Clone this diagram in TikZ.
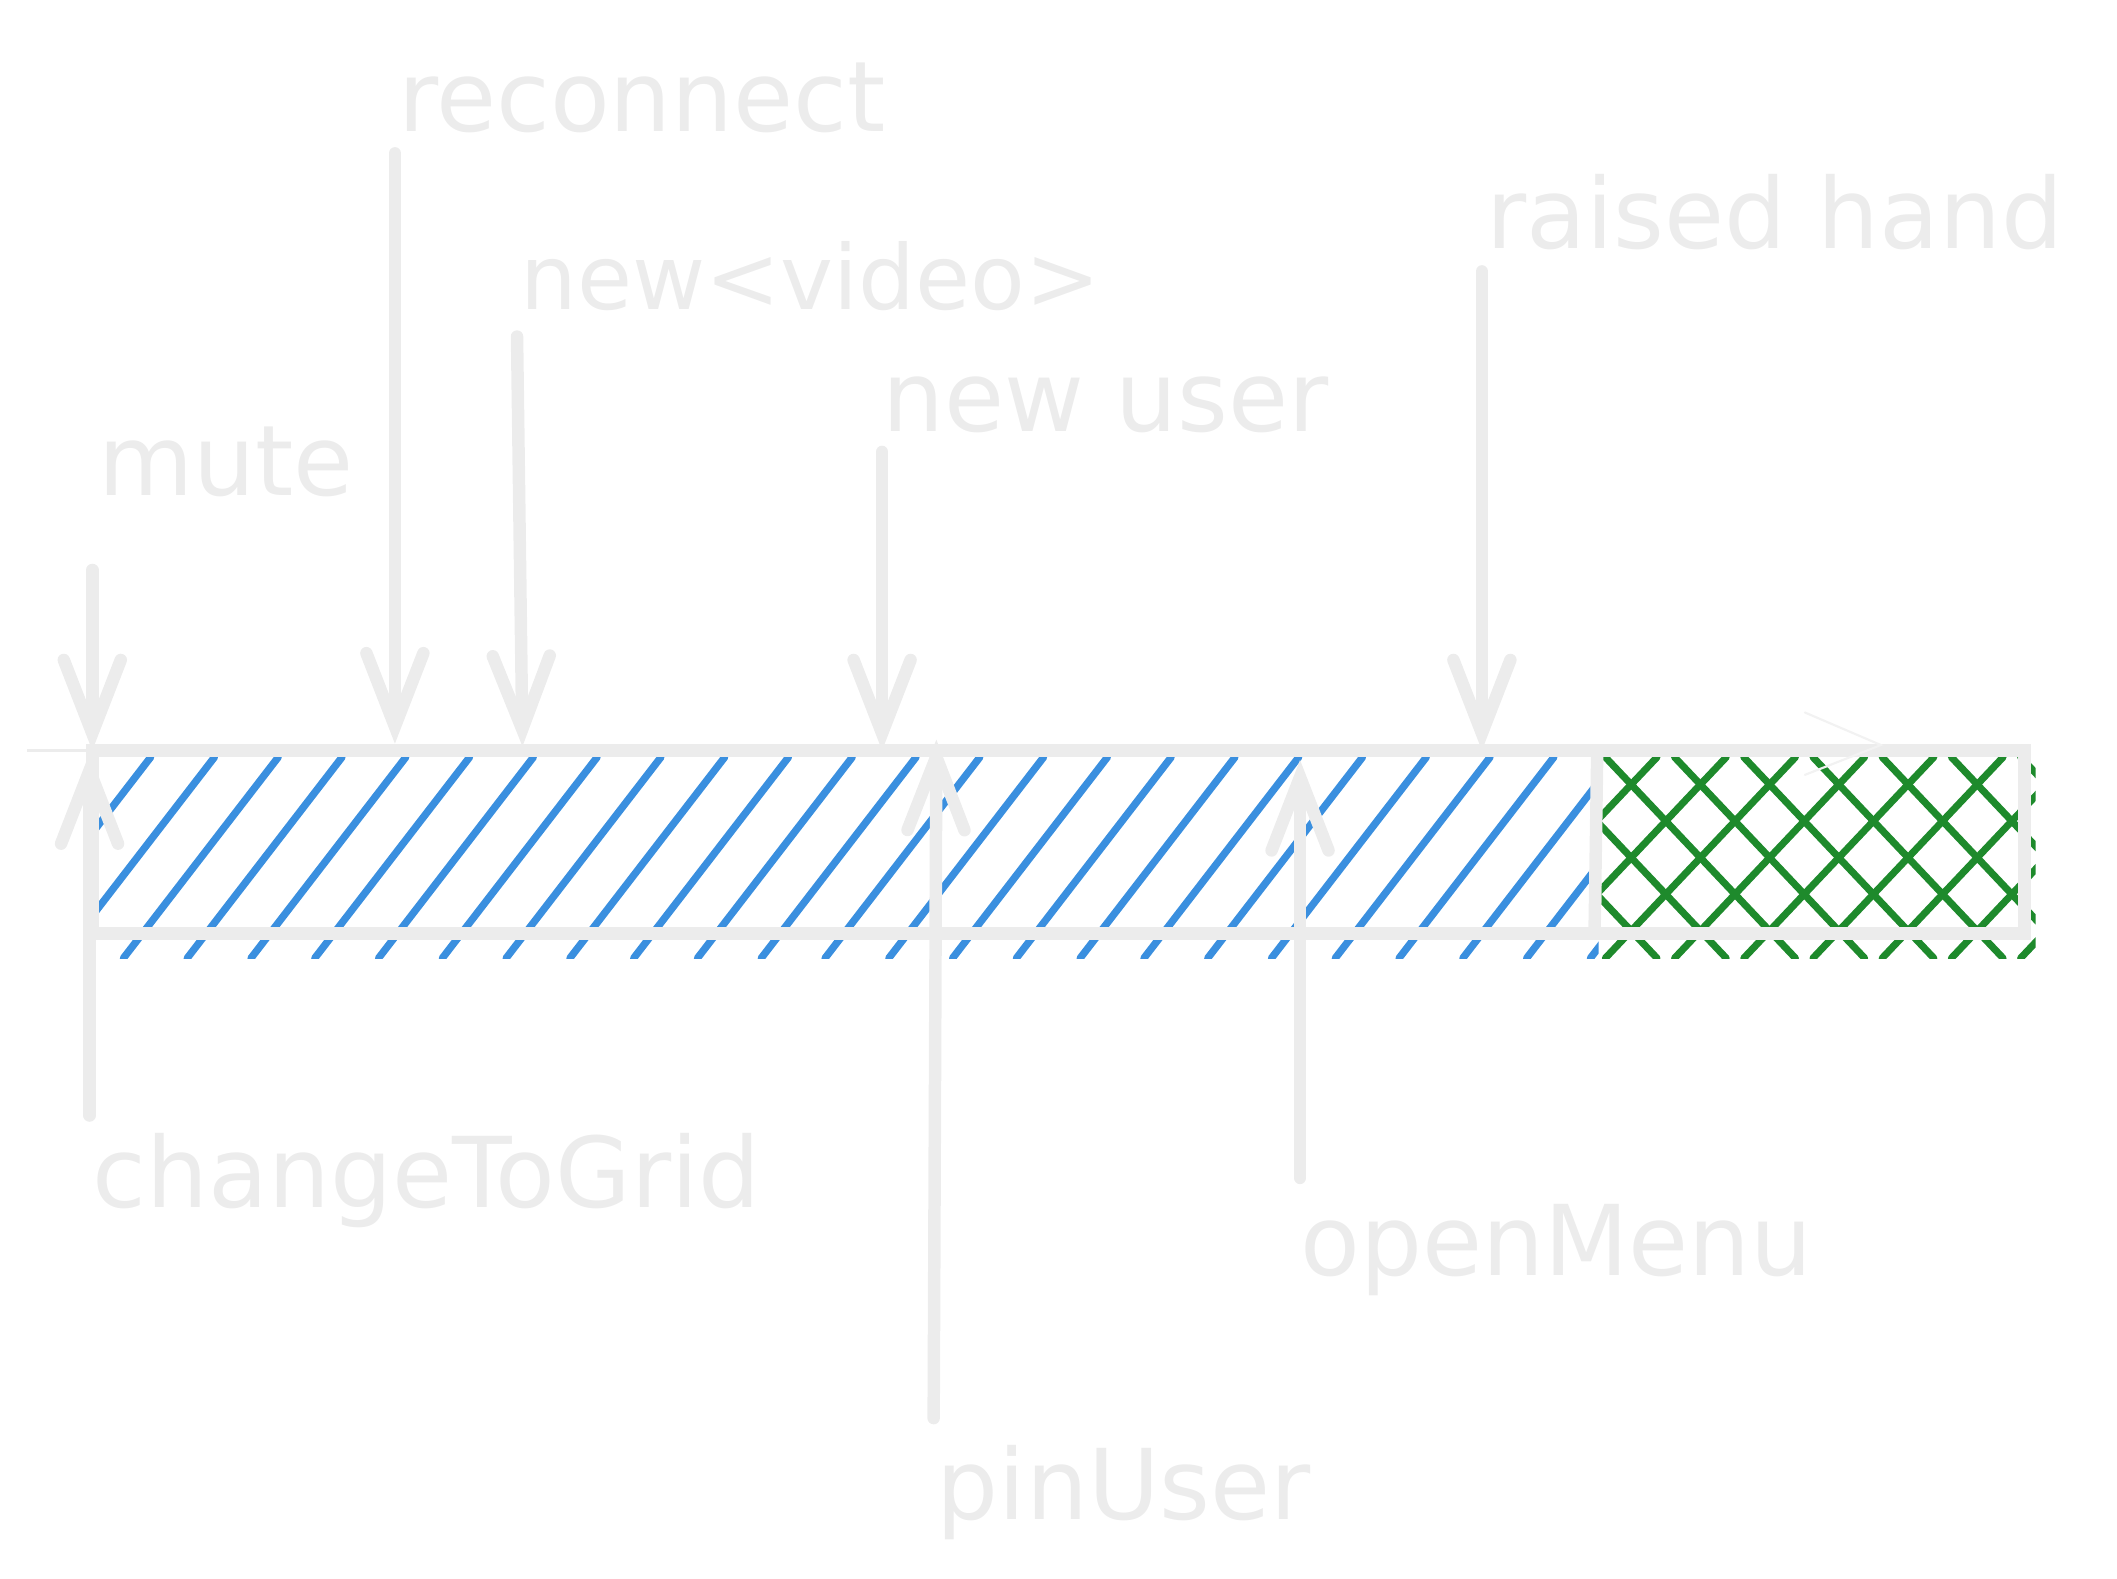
\documentclass[tikz,border=0pt]{standalone}
\usepackage{fontspec}
\setmainfont{DejaVu Sans}
\usepackage{xcolor}
\usepackage{tikz}
\usetikzlibrary{arrows.meta}

\definecolor{chalk}{HTML}{ECECEC}
\definecolor{hatchblue}{HTML}{3A8FDF}
\definecolor{hatchgreen}{HTML}{1E8A2C}

\begin{document}
\begin{tikzpicture}[x=0.5pt, y=-0.5pt,
    lbl/.style={anchor=base west, inner sep=0pt, text=chalk, font=\fontsize{36}{40}\selectfont},
    evt/.style={draw=chalk, line width=4.6pt, line cap=round,
        -{Straight Barb[length=27pt, width=21pt, line cap=round]}},
    edge/.style={draw=chalk, line width=4.6pt, line cap=round},
    bluehatch/.style={draw=hatchblue, line width=2.7pt, line cap=round},
    greenhatch/.style={draw=hatchgreen, line width=2.6pt, line cap=round}]
        \useasboundingbox (0,0) rectangle (1560,1163);

        % timeline bar
        \coordinate (BarNW) at (68, 553);
        \coordinate (BarNE) at (1492, 553);
        \coordinate (BarSW) at (68, 688);
        \coordinate (BarSE) at (1492, 688);
        \coordinate (SplitN) at (1177, 553);
        \coordinate (SplitS) at (1175, 688);
        \coordinate (LeadIn) at (20, 553);

        \begin{scope}
            \clip (72, 558) rectangle (1178, 706);
            \foreach \x in {-50,-3,...,1180}
                \draw[bluehatch] (\x, 706) -- ++(114, -148);
        \end{scope}
        \begin{scope}
            \clip (1180, 558) rectangle (1500, 706);
            \foreach \x in {1030,1081,...,1500} {
                \draw[greenhatch] (\x, 706) -- ++(140, -148);
                \draw[greenhatch] (\x, 558) -- ++(140, 148);
            }
        \end{scope}

        \draw[chalk, line width=1pt] (LeadIn) -- (BarNW);
        \draw[edge] (BarNW) -- (BarNE) -- (BarSE) -- (BarSW) -- cycle;
        \draw[edge] (SplitN) -- (SplitS);

        % faint leftover tip on the top edge
        \draw[chalk!70, line width=0.8pt, line cap=round] (1330, 525) -- (1386, 549) -- (1330, 571);

        % events from above
        \coordinate (MuteTail) at (68, 420);
        \coordinate (MuteHead) at (68, 553);
        \coordinate (ReconnectTail) at (291, 113);
        \coordinate (ReconnectHead) at (291, 548);
        \coordinate (VideoTail) at (381, 248);
        \coordinate (VideoHead) at (385, 550);
        \coordinate (UserTail) at (650, 333);
        \coordinate (UserHead) at (650, 553);
        \coordinate (HandTail) at (1092, 200);
        \coordinate (HandHead) at (1092, 553);

        % events from below
        \coordinate (GridTail) at (66, 822);
        \coordinate (GridHead) at (66, 555);
        \coordinate (PinTail) at (688, 1045);
        \coordinate (PinHead) at (690, 545);
        \coordinate (MenuTail) at (958, 868);
        \coordinate (MenuHead) at (958, 560);

        \draw[evt] (MuteTail) -- (MuteHead);
        \draw[evt] (ReconnectTail) -- (ReconnectHead);
        \draw[evt] (VideoTail) -- (VideoHead);
        \draw[evt] (UserTail) -- (UserHead);
        \draw[evt] (HandTail) -- (HandHead);
        \draw[evt] (GridTail) -- (GridHead);
        \draw[evt] (PinTail) -- (PinHead);
        \draw[evt] (MenuTail) -- (MenuHead);

        \node[lbl] (MuteLbl) at (72, 365) {mute};
        \node[lbl] (ReconnectLbl) at (293, 97) {reconnect};
        \node[lbl] (VideoLbl) at (383, 228) {\fontsize{33}{40}\selectfont new<video>};
        \node[lbl] (UserLbl) at (650, 318) {new user};
        \node[lbl] (HandLbl) at (1095, 183) {raised hand};
        \node[lbl] (GridLbl) at (68, 890) {changeToGrid};
        \node[lbl] (MenuLbl) at (958, 940) {openMenu};
        \node[lbl] (PinLbl) at (690, 1120) {pinUser};
\end{tikzpicture}
\end{document}
